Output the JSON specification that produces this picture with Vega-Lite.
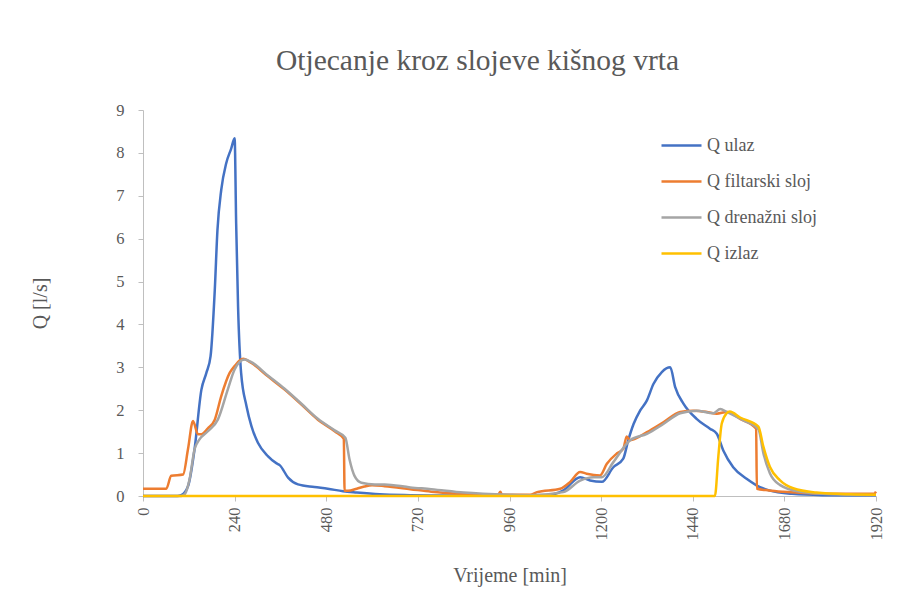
{
  "$schema": "https://vega.github.io/schema/vega-lite/v6.json",
  "autosize": "none",
  "width": 733,
  "height": 386,
  "padding": {"left": 143, "top": 110, "right": 26, "bottom": 113},
  "background": "white",
  "title": {
    "text": "Otjecanje kroz slojeve kišnog vrta",
    "anchor": "middle",
    "dx": -32,
    "offset": 26
  },
  "config": {
    "view": {"stroke": null},
    "font": "'Liberation Serif', 'Times New Roman', 'DejaVu Serif', serif",
    "title": {"font": "'Liberation Serif', 'Times New Roman', 'DejaVu Serif', serif", "fontSize": 29.5, "fontWeight": "normal", "color": "#595959"},
    "axis": {"labelFont": "'Liberation Serif', 'Times New Roman', 'DejaVu Serif', serif", "titleFont": "'Liberation Serif', 'Times New Roman', 'DejaVu Serif', serif"},
    "legend": {"labelFont": "'Liberation Serif', 'Times New Roman', 'DejaVu Serif', serif", "titleFont": "'Liberation Serif', 'Times New Roman', 'DejaVu Serif', serif"}
  },
  "data": {
    "values": [
      {"t": 0, "s": "Q ulaz", "q": 0},
      {"t": 90, "s": "Q ulaz", "q": 0},
      {"t": 100, "s": "Q ulaz", "q": 0.02},
      {"t": 118, "s": "Q ulaz", "q": 0.23},
      {"t": 135, "s": "Q ulaz", "q": 1.09},
      {"t": 153, "s": "Q ulaz", "q": 2.48},
      {"t": 166, "s": "Q ulaz", "q": 2.87},
      {"t": 177, "s": "Q ulaz", "q": 3.26},
      {"t": 188, "s": "Q ulaz", "q": 4.8},
      {"t": 195, "s": "Q ulaz", "q": 6.2},
      {"t": 205, "s": "Q ulaz", "q": 7.14},
      {"t": 218, "s": "Q ulaz", "q": 7.76},
      {"t": 231, "s": "Q ulaz", "q": 8.1},
      {"t": 240, "s": "Q ulaz", "q": 8.34},
      {"t": 244, "s": "Q ulaz", "q": 6.36},
      {"t": 249, "s": "Q ulaz", "q": 4.42},
      {"t": 257, "s": "Q ulaz", "q": 2.87},
      {"t": 271, "s": "Q ulaz", "q": 2.1},
      {"t": 284, "s": "Q ulaz", "q": 1.63},
      {"t": 301, "s": "Q ulaz", "q": 1.24},
      {"t": 327, "s": "Q ulaz", "q": 0.93},
      {"t": 350, "s": "Q ulaz", "q": 0.76},
      {"t": 358, "s": "Q ulaz", "q": 0.72},
      {"t": 380, "s": "Q ulaz", "q": 0.43},
      {"t": 406, "s": "Q ulaz", "q": 0.27},
      {"t": 449, "s": "Q ulaz", "q": 0.21},
      {"t": 484, "s": "Q ulaz", "q": 0.17},
      {"t": 524, "s": "Q ulaz", "q": 0.11},
      {"t": 560, "s": "Q ulaz", "q": 0.08},
      {"t": 620, "s": "Q ulaz", "q": 0.04},
      {"t": 700, "s": "Q ulaz", "q": 0.02},
      {"t": 800, "s": "Q ulaz", "q": 0.01},
      {"t": 1000, "s": "Q ulaz", "q": 0.01},
      {"t": 1060, "s": "Q ulaz", "q": 0.02},
      {"t": 1101, "s": "Q ulaz", "q": 0.13},
      {"t": 1145, "s": "Q ulaz", "q": 0.44},
      {"t": 1171, "s": "Q ulaz", "q": 0.36},
      {"t": 1202, "s": "Q ulaz", "q": 0.33},
      {"t": 1232, "s": "Q ulaz", "q": 0.67},
      {"t": 1258, "s": "Q ulaz", "q": 0.87},
      {"t": 1271, "s": "Q ulaz", "q": 1.3},
      {"t": 1285, "s": "Q ulaz", "q": 1.68},
      {"t": 1302, "s": "Q ulaz", "q": 1.99},
      {"t": 1320, "s": "Q ulaz", "q": 2.23},
      {"t": 1337, "s": "Q ulaz", "q": 2.61},
      {"t": 1359, "s": "Q ulaz", "q": 2.89},
      {"t": 1381, "s": "Q ulaz", "q": 3.0},
      {"t": 1394, "s": "Q ulaz", "q": 2.54},
      {"t": 1416, "s": "Q ulaz", "q": 2.15},
      {"t": 1450, "s": "Q ulaz", "q": 1.8},
      {"t": 1485, "s": "Q ulaz", "q": 1.57},
      {"t": 1503, "s": "Q ulaz", "q": 1.45},
      {"t": 1520, "s": "Q ulaz", "q": 1.06},
      {"t": 1546, "s": "Q ulaz", "q": 0.67},
      {"t": 1581, "s": "Q ulaz", "q": 0.4},
      {"t": 1607, "s": "Q ulaz", "q": 0.25},
      {"t": 1640, "s": "Q ulaz", "q": 0.13},
      {"t": 1700, "s": "Q ulaz", "q": 0.05},
      {"t": 1780, "s": "Q ulaz", "q": 0.02},
      {"t": 1920, "s": "Q ulaz", "q": 0.01},

      {"t": 0, "s": "Q filtarski sloj", "q": 0.17},
      {"t": 61, "s": "Q filtarski sloj", "q": 0.17},
      {"t": 74, "s": "Q filtarski sloj", "q": 0.47},
      {"t": 105, "s": "Q filtarski sloj", "q": 0.5},
      {"t": 118, "s": "Q filtarski sloj", "q": 1.1},
      {"t": 131, "s": "Q filtarski sloj", "q": 1.75},
      {"t": 144, "s": "Q filtarski sloj", "q": 1.44},
      {"t": 153, "s": "Q filtarski sloj", "q": 1.44},
      {"t": 170, "s": "Q filtarski sloj", "q": 1.58},
      {"t": 188, "s": "Q filtarski sloj", "q": 1.78},
      {"t": 205, "s": "Q filtarski sloj", "q": 2.33},
      {"t": 227, "s": "Q filtarski sloj", "q": 2.87},
      {"t": 240, "s": "Q filtarski sloj", "q": 3.03},
      {"t": 262, "s": "Q filtarski sloj", "q": 3.2},
      {"t": 284, "s": "Q filtarski sloj", "q": 3.1},
      {"t": 327, "s": "Q filtarski sloj", "q": 2.79},
      {"t": 371, "s": "Q filtarski sloj", "q": 2.48},
      {"t": 415, "s": "Q filtarski sloj", "q": 2.13},
      {"t": 458, "s": "Q filtarski sloj", "q": 1.78},
      {"t": 502, "s": "Q filtarski sloj", "q": 1.51},
      {"t": 526, "s": "Q filtarski sloj", "q": 1.33},
      {"t": 528, "s": "Q filtarski sloj", "q": 0.12},
      {"t": 537, "s": "Q filtarski sloj", "q": 0.12},
      {"t": 560, "s": "Q filtarski sloj", "q": 0.17},
      {"t": 580, "s": "Q filtarski sloj", "q": 0.22},
      {"t": 600, "s": "Q filtarski sloj", "q": 0.25},
      {"t": 633, "s": "Q filtarski sloj", "q": 0.23},
      {"t": 700, "s": "Q filtarski sloj", "q": 0.16},
      {"t": 755, "s": "Q filtarski sloj", "q": 0.1},
      {"t": 840, "s": "Q filtarski sloj", "q": 0.05},
      {"t": 930, "s": "Q filtarski sloj", "q": 0.03},
      {"t": 936, "s": "Q filtarski sloj", "q": 0.1},
      {"t": 940, "s": "Q filtarski sloj", "q": 0.03},
      {"t": 1014, "s": "Q filtarski sloj", "q": 0.03},
      {"t": 1032, "s": "Q filtarski sloj", "q": 0.09},
      {"t": 1093, "s": "Q filtarski sloj", "q": 0.17},
      {"t": 1119, "s": "Q filtarski sloj", "q": 0.33},
      {"t": 1145, "s": "Q filtarski sloj", "q": 0.56},
      {"t": 1162, "s": "Q filtarski sloj", "q": 0.52},
      {"t": 1197, "s": "Q filtarski sloj", "q": 0.48},
      {"t": 1215, "s": "Q filtarski sloj", "q": 0.75},
      {"t": 1241, "s": "Q filtarski sloj", "q": 0.99},
      {"t": 1258, "s": "Q filtarski sloj", "q": 1.1},
      {"t": 1267, "s": "Q filtarski sloj", "q": 1.39},
      {"t": 1276, "s": "Q filtarski sloj", "q": 1.3},
      {"t": 1320, "s": "Q filtarski sloj", "q": 1.49},
      {"t": 1363, "s": "Q filtarski sloj", "q": 1.72},
      {"t": 1407, "s": "Q filtarski sloj", "q": 1.96},
      {"t": 1442, "s": "Q filtarski sloj", "q": 1.99},
      {"t": 1477, "s": "Q filtarski sloj", "q": 1.96},
      {"t": 1503, "s": "Q filtarski sloj", "q": 1.92},
      {"t": 1529, "s": "Q filtarski sloj", "q": 1.96},
      {"t": 1564, "s": "Q filtarski sloj", "q": 1.8},
      {"t": 1606, "s": "Q filtarski sloj", "q": 1.57},
      {"t": 1608, "s": "Q filtarski sloj", "q": 0.17},
      {"t": 1640, "s": "Q filtarski sloj", "q": 0.13},
      {"t": 1677, "s": "Q filtarski sloj", "q": 0.1},
      {"t": 1764, "s": "Q filtarski sloj", "q": 0.06},
      {"t": 1850, "s": "Q filtarski sloj", "q": 0.05},
      {"t": 1915, "s": "Q filtarski sloj", "q": 0.05},
      {"t": 1920, "s": "Q filtarski sloj", "q": 0.1},

      {"t": 0, "s": "Q drenažni sloj", "q": 0},
      {"t": 100, "s": "Q drenažni sloj", "q": 0},
      {"t": 110, "s": "Q drenažni sloj", "q": 0.05},
      {"t": 122, "s": "Q drenažni sloj", "q": 0.39},
      {"t": 135, "s": "Q drenažni sloj", "q": 1.09},
      {"t": 148, "s": "Q drenažni sloj", "q": 1.32},
      {"t": 170, "s": "Q drenažni sloj", "q": 1.51},
      {"t": 196, "s": "Q drenažni sloj", "q": 1.78},
      {"t": 222, "s": "Q drenažni sloj", "q": 2.48},
      {"t": 240, "s": "Q drenažni sloj", "q": 2.95},
      {"t": 266, "s": "Q drenažni sloj", "q": 3.18},
      {"t": 284, "s": "Q drenažni sloj", "q": 3.12},
      {"t": 327, "s": "Q drenažni sloj", "q": 2.81},
      {"t": 371, "s": "Q drenažni sloj", "q": 2.5},
      {"t": 415, "s": "Q drenažni sloj", "q": 2.15},
      {"t": 458, "s": "Q drenažni sloj", "q": 1.8},
      {"t": 502, "s": "Q drenažni sloj", "q": 1.53},
      {"t": 530, "s": "Q drenažni sloj", "q": 1.36},
      {"t": 541, "s": "Q drenažni sloj", "q": 0.85},
      {"t": 554, "s": "Q drenažni sloj", "q": 0.47},
      {"t": 572, "s": "Q drenažni sloj", "q": 0.31},
      {"t": 607, "s": "Q drenažni sloj", "q": 0.27},
      {"t": 633, "s": "Q drenažni sloj", "q": 0.27},
      {"t": 700, "s": "Q drenažni sloj", "q": 0.2},
      {"t": 755, "s": "Q drenažni sloj", "q": 0.16},
      {"t": 840, "s": "Q drenažni sloj", "q": 0.08},
      {"t": 960, "s": "Q drenažni sloj", "q": 0.03},
      {"t": 1014, "s": "Q drenažni sloj", "q": 0.02},
      {"t": 1101, "s": "Q drenažni sloj", "q": 0.09},
      {"t": 1145, "s": "Q drenažni sloj", "q": 0.36},
      {"t": 1180, "s": "Q drenažni sloj", "q": 0.44},
      {"t": 1202, "s": "Q drenažni sloj", "q": 0.44},
      {"t": 1232, "s": "Q drenažni sloj", "q": 0.79},
      {"t": 1276, "s": "Q drenažni sloj", "q": 1.3},
      {"t": 1320, "s": "Q drenažni sloj", "q": 1.45},
      {"t": 1363, "s": "Q drenažni sloj", "q": 1.68},
      {"t": 1407, "s": "Q drenažni sloj", "q": 1.93},
      {"t": 1450, "s": "Q drenažni sloj", "q": 1.99},
      {"t": 1494, "s": "Q drenažni sloj", "q": 1.93},
      {"t": 1512, "s": "Q drenažni sloj", "q": 2.03},
      {"t": 1529, "s": "Q drenažni sloj", "q": 1.96},
      {"t": 1573, "s": "Q drenažni sloj", "q": 1.76},
      {"t": 1612, "s": "Q drenažni sloj", "q": 1.56},
      {"t": 1625, "s": "Q drenažni sloj", "q": 1.0},
      {"t": 1642, "s": "Q drenažni sloj", "q": 0.53},
      {"t": 1668, "s": "Q drenažni sloj", "q": 0.26},
      {"t": 1721, "s": "Q drenažni sloj", "q": 0.1},
      {"t": 1808, "s": "Q drenažni sloj", "q": 0.04},
      {"t": 1920, "s": "Q drenažni sloj", "q": 0.02},

      {"t": 0, "s": "Q izlaz", "q": 0},
      {"t": 1498, "s": "Q izlaz", "q": 0},
      {"t": 1507, "s": "Q izlaz", "q": 0.92},
      {"t": 1516, "s": "Q izlaz", "q": 1.69},
      {"t": 1529, "s": "Q izlaz", "q": 1.93},
      {"t": 1537, "s": "Q izlaz", "q": 1.97},
      {"t": 1564, "s": "Q izlaz", "q": 1.83},
      {"t": 1612, "s": "Q izlaz", "q": 1.62},
      {"t": 1625, "s": "Q izlaz", "q": 1.15},
      {"t": 1642, "s": "Q izlaz", "q": 0.68},
      {"t": 1668, "s": "Q izlaz", "q": 0.37},
      {"t": 1703, "s": "Q izlaz", "q": 0.18},
      {"t": 1764, "s": "Q izlaz", "q": 0.08},
      {"t": 1852, "s": "Q izlaz", "q": 0.04},
      {"t": 1920, "s": "Q izlaz", "q": 0.03}
    ]
  },
  "mark": {"type": "line", "strokeWidth": 2.5, "interpolate": "monotone", "clip": false},
  "encoding": {
    "x": {
      "field": "t",
      "type": "quantitative",
      "scale": {"domain": [0, 1920], "nice": false},
      "axis": {
        "values": [0, 240, 480, 720, 960, 1200, 1440, 1680, 1920],
        "format": "d",
        "title": "Vrijeme [min]",
        "titleFontSize": 20,
        "titleFontWeight": "normal",
        "titleColor": "#595959",
        "titleY": 79,
        "titleBaseline": "middle",
        "labelAngle": 270,
        "labelFontSize": 16.5,
        "labelColor": "#595959",
        "labelPadding": 6,
        "grid": false,
        "domainColor": "#BFBFBF",
        "tickColor": "#BFBFBF",
        "tickSize": 5,
        "labelFlush": false,
        "labelOverlap": false
      }
    },
    "y": {
      "field": "q",
      "type": "quantitative",
      "scale": {"domain": [0, 9], "nice": false},
      "axis": {
        "values": [0, 1, 2, 3, 4, 5, 6, 7, 8, 9],
        "title": "Q [l/s]",
        "titleFontSize": 20,
        "titleFontWeight": "normal",
        "titleColor": "#595959",
        "titleX": -103,
        "titleBaseline": "middle",
        "labelFontSize": 16.5,
        "labelColor": "#595959",
        "labelPadding": 14,
        "grid": false,
        "domainColor": "#BFBFBF",
        "tickColor": "#BFBFBF",
        "tickSize": 5,
        "labelFlush": false
      }
    },
    "color": {
      "field": "s",
      "type": "nominal",
      "sort": ["Q ulaz", "Q filtarski sloj", "Q drenažni sloj", "Q izlaz"],
      "scale": {
        "domain": ["Q ulaz", "Q filtarski sloj", "Q drenažni sloj", "Q izlaz"],
        "range": ["#4472C4", "#ED7D31", "#A5A5A5", "#FFC000"]
      },
      "legend": {
        "title": null,
        "orient": "none",
        "legendX": 517,
        "legendY": 14,
        "symbolType": "stroke",
        "symbolSize": 1600,
        "symbolStrokeWidth": 2.5,
        "labelFontSize": 18,
        "labelColor": "#595959",
        "labelOffset": 4,
        "rowPadding": 5
      }
    }
  }
}
